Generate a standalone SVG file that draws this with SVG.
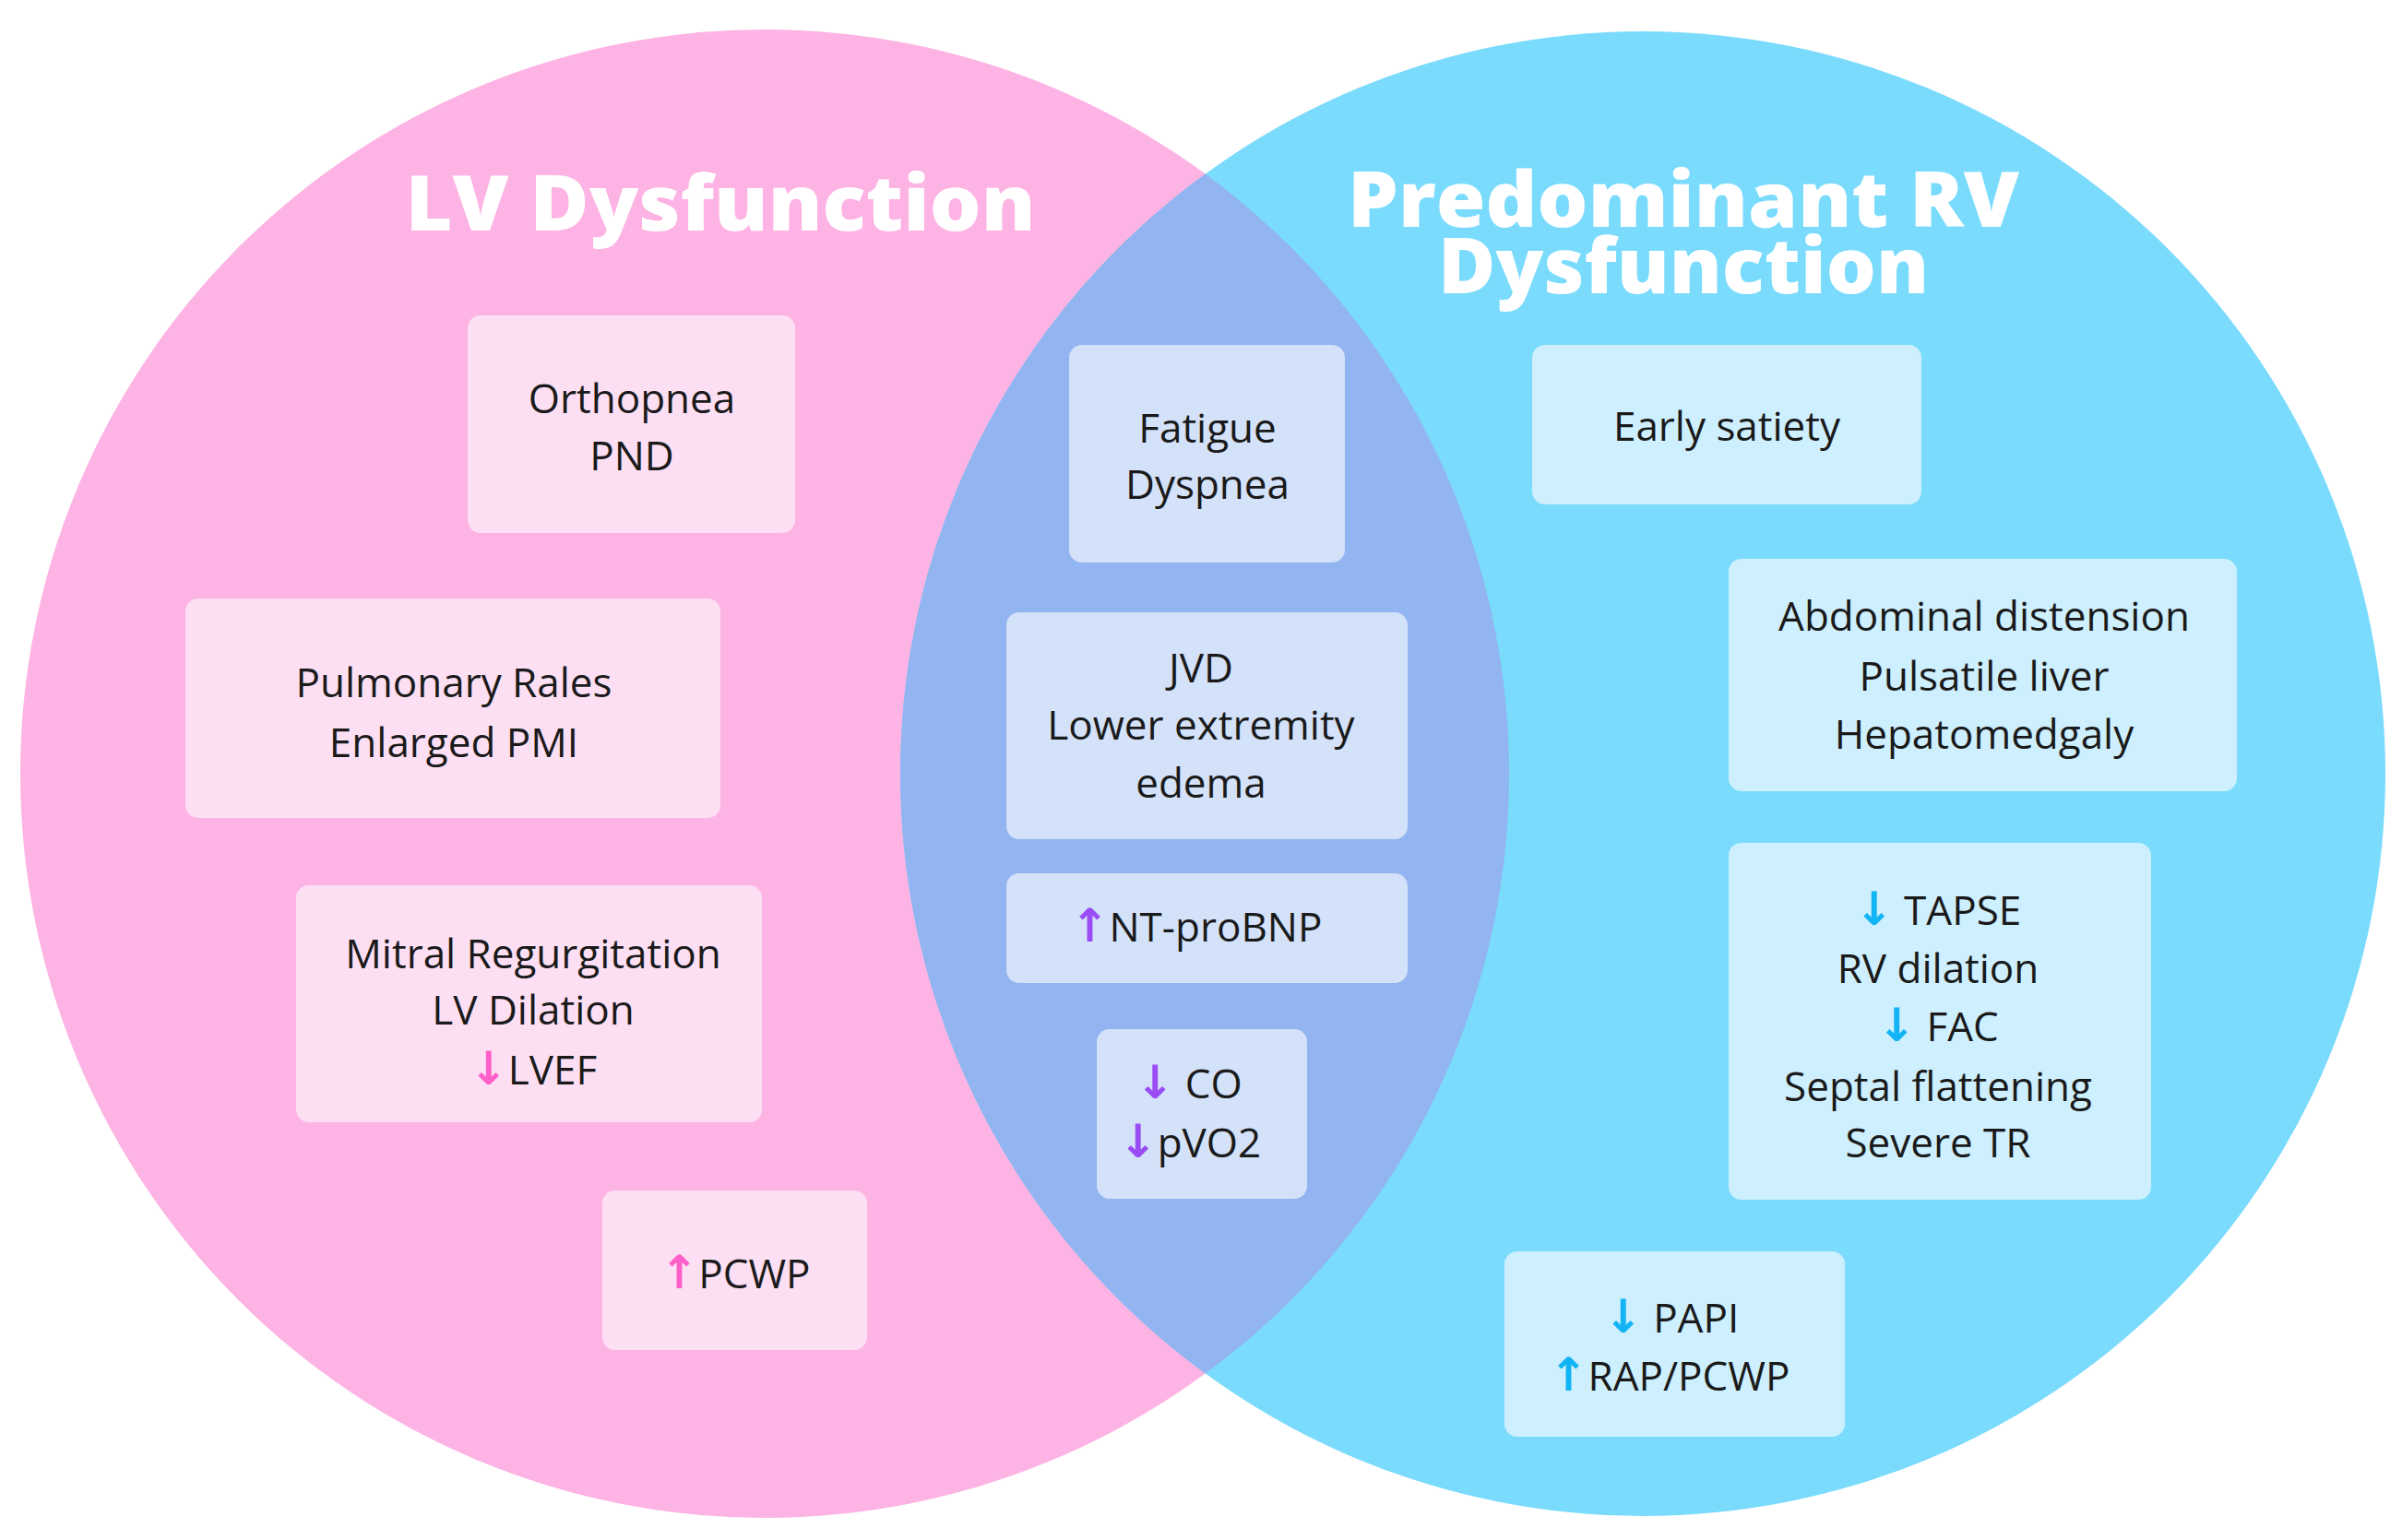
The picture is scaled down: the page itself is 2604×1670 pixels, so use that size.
<svg xmlns="http://www.w3.org/2000/svg" width="2604" height="1670" viewBox="0 0 2604 1670">
<style>
.t{font-family:"Open Sans","Liberation Sans",sans-serif;font-size:44px;fill:#1a1a1a;text-anchor:middle}
.h{font-family:"Open Sans","Liberation Sans",sans-serif;font-weight:800;font-size:84px;fill:#fff;text-anchor:middle}
.pb{fill:#FDDFF4}.bb{fill:#CDEFFE}.ob{fill:#D3E1F9}
.ap{fill:#FF5FC8;font-family:"DejaVu Sans",sans-serif;font-weight:bold;font-size:50px}
.ab{fill:#12B4F5;font-family:"DejaVu Sans",sans-serif;font-weight:bold;font-size:50px}
.av{fill:#9A4DF5;font-family:"DejaVu Sans",sans-serif;font-weight:bold;font-size:50px}
</style>
<defs><clipPath id="cl"><circle cx="829" cy="839" r="807"/></clipPath></defs>
<rect width="2604" height="1670" fill="#fff"/>
<g id="circles">
<circle cx="829" cy="839" r="807" fill="#FDB3E3"/>
<circle cx="1781" cy="839" r="805" fill="#7ADBFC"/>
<circle cx="1781" cy="839" r="805" fill="#92B4F0" clip-path="url(#cl)"/>
</g>
<g id="titles">
<text class="h" x="781" y="250" textLength="683" lengthAdjust="spacingAndGlyphs">LV Dysfunction</text>
<text class="h" x="1825" y="246" textLength="728" lengthAdjust="spacingAndGlyphs">Predominant RV</text>
<text class="h" x="1825" y="318" textLength="532" lengthAdjust="spacingAndGlyphs">Dysfunction</text>
</g>
<g id="n1"><rect class="pb" x="507" y="342" width="355" height="236" rx="14"/><text class="t" x="685" y="448">Orthopnea</text><text class="t" x="685" y="510">PND</text></g>
<g id="n2"><rect class="pb" x="201" y="649" width="580" height="238" rx="14"/><text class="t" x="492" y="756">Pulmonary Rales</text><text class="t" x="492" y="821">Enlarged PMI</text></g>
<g id="n3"><rect class="pb" x="321" y="960" width="505" height="257" rx="14"/><text class="t" x="578" y="1050">Mitral Regurgitation</text><text class="t" x="578" y="1111">LV Dilation</text><text class="t" x="578" y="1176"><tspan class="ap">↓</tspan>LVEF</text></g>
<g id="n4"><rect class="pb" x="653" y="1291" width="287" height="173" rx="14"/><text class="t" x="797" y="1397"><tspan class="ap">↑</tspan>PCWP</text></g>
<g id="n5"><rect class="ob" x="1159" y="374" width="299" height="236" rx="14"/><text class="t" x="1309" y="480">Fatigue</text><text class="t" x="1309" y="541">Dyspnea</text></g>
<g id="n6"><rect class="ob" x="1091" y="664" width="435" height="246" rx="14"/><text class="t" x="1302" y="740">JVD</text><text class="t" x="1302" y="802">Lower extremity</text><text class="t" x="1302" y="865">edema</text></g>
<g id="n7"><rect class="ob" x="1091" y="947" width="435" height="119" rx="14"/><text class="t" x="1297" y="1021"><tspan class="av">↑</tspan>NT-proBNP</text></g>
<g id="n8"><rect class="ob" x="1189" y="1116" width="228" height="184" rx="14"/><text class="t" x="1289" y="1191"><tspan class="av">↓</tspan> CO</text><text class="t" x="1290" y="1255"><tspan class="av">↓</tspan>pVO2</text></g>
<g id="n9"><rect class="bb" x="1661" y="374" width="422" height="173" rx="14"/><text class="t" x="1872" y="478">Early satiety</text></g>
<g id="n10"><rect class="bb" x="1874" y="606" width="551" height="252" rx="14"/><text class="t" x="2151" y="684">Abdominal distension</text><text class="t" x="2151" y="749">Pulsatile liver</text><text class="t" x="2151" y="812">Hepatomedgaly</text></g>
<g id="n11"><rect class="bb" x="1874" y="914" width="458" height="387" rx="14"/><text class="t" x="2101" y="1003"><tspan class="ab">↓</tspan> TAPSE</text><text class="t" x="2101" y="1066">RV dilation</text><text class="t" x="2101" y="1129"><tspan class="ab">↓</tspan> FAC</text><text class="t" x="2101" y="1194">Septal flattening</text><text class="t" x="2101" y="1255">Severe TR</text></g>
<g id="n12"><rect class="bb" x="1631" y="1357" width="369" height="201" rx="14"/><text class="t" x="1812" y="1445"><tspan class="ab">↓</tspan> PAPI</text><text class="t" x="1810" y="1508"><tspan class="ab">↑</tspan>RAP/PCWP</text></g>
<g id="connectors"/>
</svg>
